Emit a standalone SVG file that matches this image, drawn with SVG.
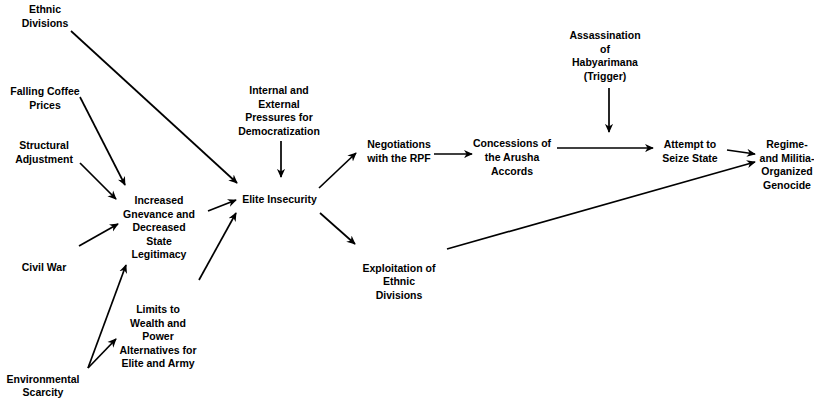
<svg xmlns="http://www.w3.org/2000/svg" width="814" height="402" viewBox="0 0 814 402">
<style>
text{font-family:"Liberation Sans",Arial,sans-serif;font-size:10.5px;font-weight:bold;fill:#000;text-anchor:middle}
.c line{stroke:#000;stroke-width:1.7;marker-end:url(#ah)}
</style>
<defs>
<marker id="ah" viewBox="0 0 10 10" refX="9" refY="5" markerWidth="9" markerHeight="9" markerUnits="userSpaceOnUse" orient="auto">
<path d="M0,0.5 L10,5 L0,9.5 L3,5 z" fill="#000"/>
</marker>
</defs>
<rect width="814" height="402" fill="#fff"/>
<g id="ethnic-divisions"><text x="45" y="13">Ethnic</text><text x="45" y="27">Divisions</text></g>
<g id="falling-coffee"><text x="45" y="95">Falling Coffee</text><text x="45" y="108.5">Prices</text></g>
<g id="structural-adjustment"><text x="44" y="149">Structural</text><text x="44" y="163">Adjustment</text></g>
<g id="civil-war"><text x="44" y="271">Civil War</text></g>
<g id="environmental-scarcity"><text x="43" y="383">Environmental</text><text x="43" y="396">Scarcity</text></g>
<g id="increased-grievance"><text x="159" y="204">Increased</text><text x="159" y="217.5">Gnevance and</text><text x="159" y="231">Decreased</text><text x="159" y="244.5">State</text><text x="159" y="258">Legitimacy</text></g>
<g id="limits"><text x="158" y="313">Limits to</text><text x="158" y="326.5">Wealth and</text><text x="158" y="340">Power</text><text x="158" y="353.5">Alternatives for</text><text x="158" y="367">Elite and Army</text></g>
<g id="pressures"><text x="279" y="94">Internal and</text><text x="279" y="107.5">External</text><text x="279" y="121">Pressures for</text><text x="279" y="134.5">Democratization</text></g>
<g id="elite-insecurity"><text x="279.5" y="203">Elite Insecurity</text></g>
<g id="negotiations"><text x="399" y="148">Negotiations</text><text x="399" y="161.5">with the RPF</text></g>
<g id="concessions"><text x="512" y="147">Concessions of</text><text x="512" y="161">the Arusha</text><text x="512" y="175">Accords</text></g>
<g id="assassination"><text x="605" y="39">Assassination</text><text x="605" y="52.5">of</text><text x="605" y="66">Habyarimana</text><text x="605" y="79.5">(Trigger)</text></g>
<g id="attempt"><text x="690" y="148">Attempt to</text><text x="690" y="161.5">Seize State</text></g>
<g id="genocide"><text x="787" y="148">Regime-</text><text x="787" y="161.5">and Militia-</text><text x="787" y="175">Organized</text><text x="787" y="189">Genocide</text></g>
<g id="exploitation"><text x="399" y="271.5">Exploitation of</text><text x="399" y="285">Ethnic</text><text x="399" y="299">Divisions</text></g>
<g id="connectors" class="c">
<line x1="71" y1="31" x2="237" y2="183"/>
<line x1="80" y1="97" x2="125" y2="185"/>
<line x1="80" y1="163" x2="116" y2="199"/>
<line x1="79" y1="246" x2="118" y2="224"/>
<line x1="88" y1="368" x2="126" y2="265"/>
<line x1="88" y1="368" x2="116" y2="339"/>
<line x1="208" y1="211" x2="236" y2="200"/>
<line x1="199" y1="280" x2="236" y2="213"/>
<line x1="281" y1="141" x2="281" y2="177"/>
<line x1="319" y1="188" x2="356" y2="153"/>
<line x1="320" y1="213" x2="355" y2="244"/>
<line x1="434" y1="154" x2="472" y2="154"/>
<line x1="557" y1="148" x2="653" y2="148"/>
<line x1="609" y1="88" x2="609" y2="132"/>
<line x1="727" y1="150" x2="755" y2="154"/>
<line x1="447" y1="249" x2="755" y2="162"/>
</g>
</svg>
